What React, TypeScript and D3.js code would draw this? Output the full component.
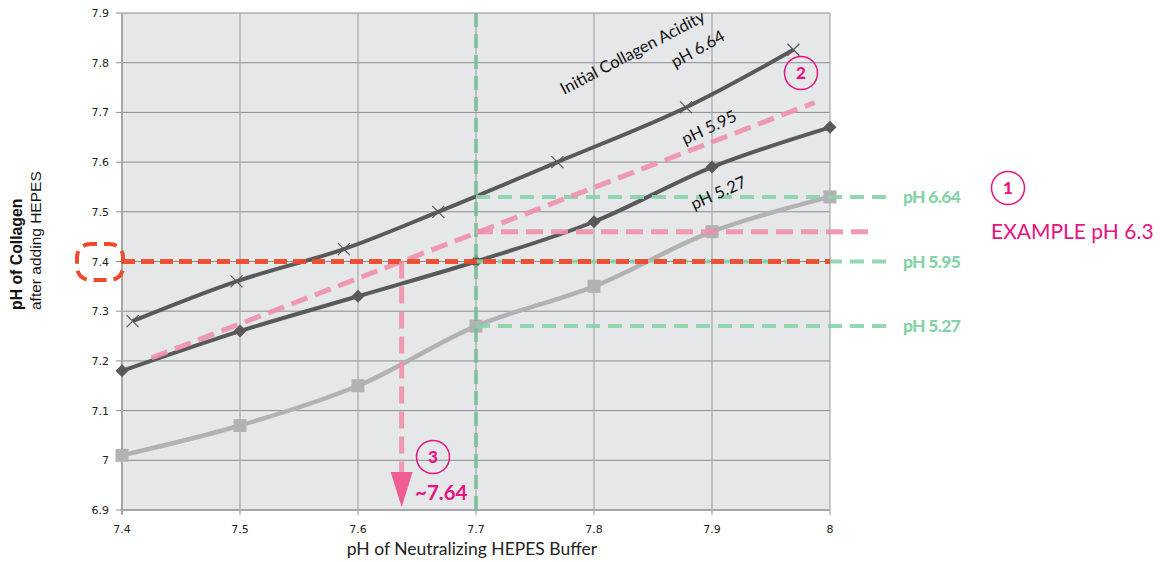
import React from "react";
import * as d3 from "d3";

const xTicks = [7.4, 7.5, 7.6, 7.7, 7.8, 7.9, 8];
const yTicks = [6.9, 7, 7.1, 7.2, 7.3, 7.4, 7.5, 7.6, 7.7, 7.8, 7.9];

const s664X = [7.409, 7.497, 7.588, 7.668, 7.769, 7.878, 7.969];
const s664Y = [7.28, 7.36, 7.425, 7.5, 7.6, 7.71, 7.826];
const s595X = [7.4, 7.5, 7.6, 7.7, 7.8, 7.9, 8.0];
const s595Y = [7.18, 7.26, 7.33, 7.4, 7.48, 7.59, 7.67];
const s527X = [7.4, 7.5, 7.6, 7.7, 7.8, 7.9, 8.0];
const s527Y = [7.01, 7.07, 7.15, 7.27, 7.35, 7.46, 7.53];

const exampleLine = [[7.425, 7.206], [7.987, 7.72]];
const exampleX = 7.637;
const exampleHorizY = 7.46;
const targetY = 7.4;
const buffer = 7.7;
const greenLevels = [7.53, 7.4, 7.27];
const greenLabels = ["pH 6.64", "pH 5.95", "pH 5.27"];

const W = 1164, H = 562;
const x = d3.scaleLinear().domain([7.4, 8]).range([122, 830]);
const y = d3.scaleLinear().domain([6.9, 7.9]).range([510, 13]);

const line = d3.line<[number, number]>().x(d => x(d[0])).y(d => y(d[1])).curve(d3.curveCatmullRom.alpha(0.5));
const zip = (a: number[], b: number[]) => a.map((v, i) => [v, b[i]] as [number, number]);

const PINK = "#ef8fab";
const RED = "#ee4a2c";
const GREEN = "#86d3a8";
const MAG = "#e8137f";
const DARK = "#595959";
const LIGHT = "#b2b2b2";

export default function App() {
  const p664 = zip(s664X, s664Y);
  const p595 = zip(s595X, s595Y);
  const p527 = zip(s527X, s527Y);
  const xEnd = x(8) + 58;
  return (
    <svg width={W} height={H} style={{ position: "absolute", left: 0, top: 0, background: "#fff" }}>
      <rect x={x(7.4)} y={y(7.9)} width={x(8) - x(7.4)} height={y(6.9) - y(7.9)} fill="#e6e7e9" />
      {yTicks.map(t => (
        <g key={"y" + t}>
          <line x1={x(7.4) - 6} x2={x(8)} y1={y(t)} y2={y(t)} stroke="#8c8c8c" strokeWidth={1} />
          <text x={x(7.4) - 13} y={y(t) + 4} textAnchor="end" fontFamily="DejaVu Sans" fontSize={11} fill="#222">{d3.format("")(t)}</text>
        </g>
      ))}
      {xTicks.map(t => (
        <g key={"x" + t}>
          <line x1={x(t)} x2={x(t)} y1={y(7.9)} y2={y(6.9) + 5} stroke="#a6a6a6" strokeWidth={t === 7.4 ? 2 : 1.2} />
          <text x={x(t)} y={y(6.9) + 23} textAnchor="middle" fontFamily="DejaVu Sans" fontSize={11} fill="#222">{String(t)}</text>
        </g>
      ))}
      <line x1={x(7.4)} x2={x(8)} y1={y(6.9)} y2={y(6.9)} stroke="#a6a6a6" strokeWidth={2} />

      {/* series lines */}
      <path d={line(p527)!} fill="none" stroke={LIGHT} strokeWidth={4.5} />
      {p527.map((p, i) => (
        <rect key={"sq" + i} x={x(p[0]) - 6.5} y={y(p[1]) - 6.5} width={13} height={13} fill={LIGHT} />
      ))}
      <path d={line(p595)!} fill="none" stroke={DARK} strokeWidth={4} />
      {p595.map((p, i) => (
        <path key={"dm" + i} d={`M${x(p[0])},${y(p[1]) - 6.5}L${x(p[0]) + 6.5},${y(p[1])}L${x(p[0])},${y(p[1]) + 6.5}L${x(p[0]) - 6.5},${y(p[1])}Z`} fill={DARK} />
      ))}
      <path d={line(p664)!} fill="none" stroke={DARK} strokeWidth={4} />
      {p664.map((p, i) => (
        <path key={"xm" + i} d={`M${x(p[0]) - 6},${y(p[1]) - 6}L${x(p[0]) + 6},${y(p[1]) + 6}M${x(p[0]) + 6},${y(p[1]) - 6}L${x(p[0]) - 6},${y(p[1]) + 6}`} stroke={DARK} strokeWidth={1.2} />
      ))}

      {/* annotation lines */}
      <line x1={x(buffer)} x2={x(buffer)} y1={y(7.9)} y2={y(6.9)} stroke="#6fbf8f" strokeOpacity={0.75} strokeWidth={4} strokeDasharray="14 7" />
      {greenLevels.map((g, i) => (
        <g key={"g" + i}>
          <line x1={x(buffer)} x2={xEnd} y1={y(g)} y2={y(g)} stroke={GREEN} strokeOpacity={0.9} strokeWidth={4} strokeDasharray="14 8" />
          <text x={903} y={y(g) + 6} fontFamily="Lato" fontWeight={900} fontSize={17.5} fill={GREEN} letterSpacing={-0.7}>{greenLabels[i]}</text>
        </g>
      ))}
      <line x1={x(exampleLine[0][0])} y1={y(exampleLine[0][1])} x2={x(exampleLine[1][0])} y2={y(exampleLine[1][1])} stroke={PINK} strokeOpacity={0.9} strokeWidth={5} strokeDasharray="17 8" />
      <line x1={x(buffer)} x2={872} y1={y(exampleHorizY)} y2={y(exampleHorizY)} stroke={PINK} strokeOpacity={0.9} strokeWidth={5} strokeDasharray="17 8" />
      <line x1={x(7.4)} x2={x(8)} y1={y(targetY)} y2={y(targetY)} stroke={RED} strokeOpacity={0.95} strokeWidth={5} strokeDasharray="13 6" />
      <line x1={x(exampleX)} x2={x(exampleX)} y1={y(targetY)} y2={y(6.9) - 38} stroke={PINK} strokeOpacity={0.9} strokeWidth={5} strokeDasharray="17 8" />
      <path d={`M${x(exampleX) - 11},${y(6.9) - 38}L${x(exampleX) + 11},${y(6.9) - 38}L${x(exampleX)},${y(6.9) - 3}Z`} fill="#ee4f8a" fillOpacity={0.9} />
      <rect x={77} y={244} width={46} height={36} rx={13} ry={13} fill="none" stroke={RED} strokeWidth={4} strokeDasharray="13 7" strokeDashoffset={6} />

      {/* labels */}
      <g fontFamily="Lato" fontSize={16.5} fill="#111">
        <text transform={`translate(564,95) rotate(-27.7)`}>Initial Collagen Acidity</text>
        <text transform={`translate(675,68) rotate(-29)`}>pH 6.64</text>
        <text transform={`translate(685,145) rotate(-25)`}>pH 5.95</text>
        <text transform={`translate(694,210) rotate(-24)`}>pH 5.27</text>
      </g>

      {/* numbered circles */}
      {[[801, 73, "2"], [1008, 188, "1"], [433, 457, "3"]].map(([cx, cy, t]) => (
        <g key={"c" + t}>
          <circle cx={cx as number} cy={cy as number} r={16.5} fill="none" stroke={MAG} strokeWidth={1.5} />
          <text x={cx as number} y={(cy as number) + 6} textAnchor="middle" fontFamily="Lato" fontWeight={900} fontSize={17} fill={MAG}>{t}</text>
        </g>
      ))}
      <text x={991} y={239} fontFamily="Lato" fontSize={21} fill={MAG}>EXAMPLE pH 6.3</text>
      <text x={415} y={500} fontFamily="Lato" fontWeight={700} fontSize={20.5} fill={MAG}>~7.64</text>

      {/* axis titles */}
      <text x={472} y={555} textAnchor="middle" fontFamily="Lato" fontSize={17.5} fill="#222">pH of Neutralizing HEPES Buffer</text>
      <text transform="translate(22,310) rotate(-90)" fontFamily="Liberation Sans" fontWeight={700} fontSize={15.8} fill="#111">pH of Collagen</text>
      <text transform="translate(41,310) rotate(-90)" fontFamily="Liberation Sans" fontSize={15.5} fill="#111">after adding HEPES</text>
    </svg>
  );
}
